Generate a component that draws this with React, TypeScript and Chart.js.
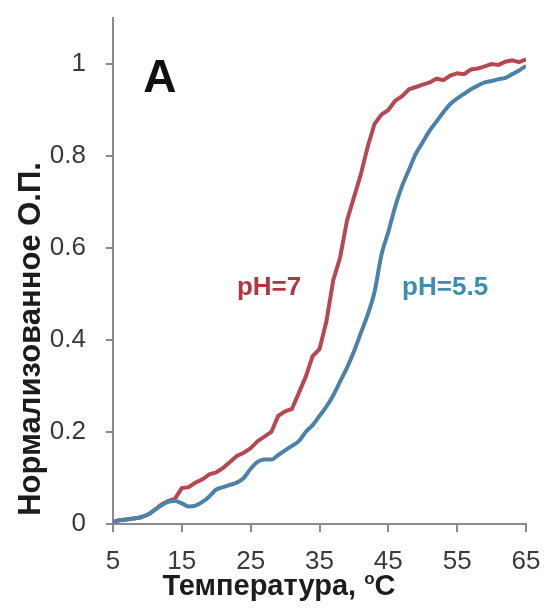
import React, { useEffect, useRef } from "react";
import { Chart, registerables } from "chart.js";

Chart.register(...registerables);

const TEMPS = [5, 6, 7, 8, 9, 10, 11, 12, 13, 14, 15, 16, 17, 18, 19, 20, 21, 22, 23, 24, 25, 26, 27, 28, 29, 30, 31, 32, 33, 34, 35, 36, 37, 38, 39, 40, 41, 42, 43, 44, 45, 46, 47, 48, 49, 50, 51, 52, 53, 54, 55, 56, 57, 58, 59, 60, 61, 62, 63, 64, 65];

const PH7 = [0.005, 0.008, 0.01, 0.012, 0.014, 0.02, 0.03, 0.042, 0.05, 0.055, 0.078, 0.08, 0.09, 0.097, 0.108, 0.112, 0.122, 0.135, 0.148, 0.155, 0.165, 0.18, 0.19, 0.2, 0.235, 0.245, 0.25, 0.285, 0.32, 0.365, 0.38, 0.44, 0.53, 0.58, 0.66, 0.71, 0.76, 0.82, 0.87, 0.89, 0.9, 0.92, 0.93, 0.945, 0.95, 0.955, 0.96, 0.968, 0.965, 0.975, 0.98, 0.978, 0.988, 0.99, 0.995, 1.0, 0.998, 1.005, 1.008, 1.004, 1.01];

const PH55 = [0.005, 0.008, 0.01, 0.012, 0.015, 0.02, 0.03, 0.04, 0.048, 0.05, 0.045, 0.038, 0.04, 0.048, 0.06, 0.075, 0.08, 0.085, 0.09, 0.1, 0.12, 0.135, 0.14, 0.14, 0.15, 0.16, 0.17, 0.18, 0.2, 0.215, 0.235, 0.255, 0.28, 0.31, 0.34, 0.375, 0.415, 0.455, 0.505, 0.585, 0.635, 0.69, 0.735, 0.77, 0.805, 0.83, 0.855, 0.875, 0.895, 0.913, 0.925, 0.935, 0.945, 0.953, 0.96, 0.963, 0.967, 0.97, 0.978, 0.986, 0.996];

const X_TICKS = [5, 15, 25, 35, 45, 55, 65];
const Y_TICKS = [0, 0.2, 0.4, 0.6, 0.8, 1];

const Y_TITLE = "Нормализованное О.П.";
const X_TITLE = "Температура, ";
const X_TITLE_SUP = "o";
const X_TITLE_END = "C";
const PANEL = "A";
const LABEL_PH7 = "pH=7";
const LABEL_PH55 = "pH=5.5";

const FONT = '"Liberation Sans", Arial, sans-serif';
const RED = "#b64852";
const BLUE = "#4c82a9";
const AXIS = "#8a8a8a";

const textPlugin = {
  id: "texts",
  afterDraw(chart: any) {
    const ctx = chart.ctx;
    const xs = chart.scales.x;
    const ys = chart.scales.y;
    ctx.save();
    ctx.fillStyle = "#111";
    ctx.font = `bold 46px ${FONT}`;
    ctx.textAlign = "left";
    ctx.textBaseline = "alphabetic";
    ctx.fillText(PANEL, xs.getPixelForValue(9.4), ys.getPixelForValue(0.94));
    ctx.font = `bold 26px ${FONT}`;
    ctx.fillStyle = "#b0363f";
    ctx.fillText(LABEL_PH7, xs.getPixelForValue(23), ys.getPixelForValue(0.498));
    ctx.fillStyle = "#3d8db5";
    ctx.fillText(LABEL_PH55, xs.getPixelForValue(47), ys.getPixelForValue(0.498));
    ctx.fillStyle = "#1c1c1c";
    ctx.font = `bold 31px ${FONT}`;
    ctx.save();
    ctx.translate(40, 339);
    ctx.rotate(-Math.PI / 2);
    ctx.textAlign = "center";
    ctx.fillText(Y_TITLE, 0, 0);
    ctx.restore();
    const big = `bold 29px ${FONT}`;
    const small = `bold 17px ${FONT}`;
    ctx.font = big;
    const w1 = ctx.measureText(X_TITLE).width;
    const w3 = ctx.measureText(X_TITLE_END).width;
    ctx.font = small;
    const w2 = ctx.measureText(X_TITLE_SUP).width;
    const total = w1 + w2 + w3;
    const x0 = 279 - total / 2;
    const base = 595;
    ctx.textAlign = "left";
    ctx.font = big;
    ctx.fillText(X_TITLE, x0, base);
    ctx.font = small;
    ctx.fillText(X_TITLE_SUP, x0 + w1, base - 11);
    ctx.font = big;
    ctx.fillText(X_TITLE_END, x0 + w1 + w2, base);
    ctx.restore();
  },
};

export default function App() {
  const ref = useRef<HTMLCanvasElement>(null);
  useEffect(() => {
    document.body.style.margin = "0";
    const chart = new Chart(ref.current as HTMLCanvasElement, {
      type: "line",
      data: {
        datasets: [
          {
            label: LABEL_PH55,
            data: TEMPS.map((t, i) => ({ x: t, y: PH55[i] })),
            borderColor: BLUE,
            borderWidth: 4,
            pointRadius: 0,
            tension: 0.4,
            cubicInterpolationMode: "monotone",
            fill: false,
          },
          {
            label: LABEL_PH7,
            data: TEMPS.map((t, i) => ({ x: t, y: PH7[i] })),
            borderColor: RED,
            borderWidth: 4,
            pointRadius: 0,
            tension: 0,
            fill: false,
          },
        ],
      },
      options: {
        animation: false,
        responsive: false,
        maintainAspectRatio: false,
        layout: { padding: { top: 18, right: 21, left: 0, bottom: 0 } },
        plugins: { legend: { display: false }, tooltip: { enabled: false } },
        scales: {
          x: {
            type: "linear",
            min: 5,
            max: 65,
            afterBuildTicks: (s: any) => {
              s.ticks = X_TICKS.map((v) => ({ value: v }));
            },
            afterFit: (s: any) => {
              s.height = 86;
              s.paddingLeft = 0;
              s.paddingRight = 0;
            },
            ticks: {
              font: { family: FONT, size: 26 },
              color: "#3a3a3a",
              padding: 14,
              maxRotation: 0,
              autoSkip: false,
            },
            grid: { drawOnChartArea: false, drawTicks: true, tickLength: 8, color: AXIS, lineWidth: 2 },
            border: { color: AXIS, width: 2 },
          },
          y: {
            type: "linear",
            min: 0,
            max: 1.1,
            afterBuildTicks: (s: any) => {
              s.ticks = Y_TICKS.map((v) => ({ value: v }));
            },
            afterFit: (s: any) => {
              s.width = 113;
              s.paddingTop = 0;
              s.paddingBottom = 0;
            },
            ticks: {
              font: { family: FONT, size: 26 },
              color: "#3a3a3a",
              padding: 20,
              callback: (v: any) => String(Math.round(Number(v) * 10) / 10),
            },
            grid: { drawOnChartArea: false, drawTicks: true, tickLength: 7, color: AXIS, lineWidth: 2 },
            border: { color: AXIS, width: 2 },
          },
        },
      },
      plugins: [textPlugin],
    });
    return () => chart.destroy();
  }, []);
  return (
    <div style={{ width: 547, height: 610 }}>
      <canvas ref={ref} width={547} height={610} style={{ display: "block" }} />
    </div>
  );
}
